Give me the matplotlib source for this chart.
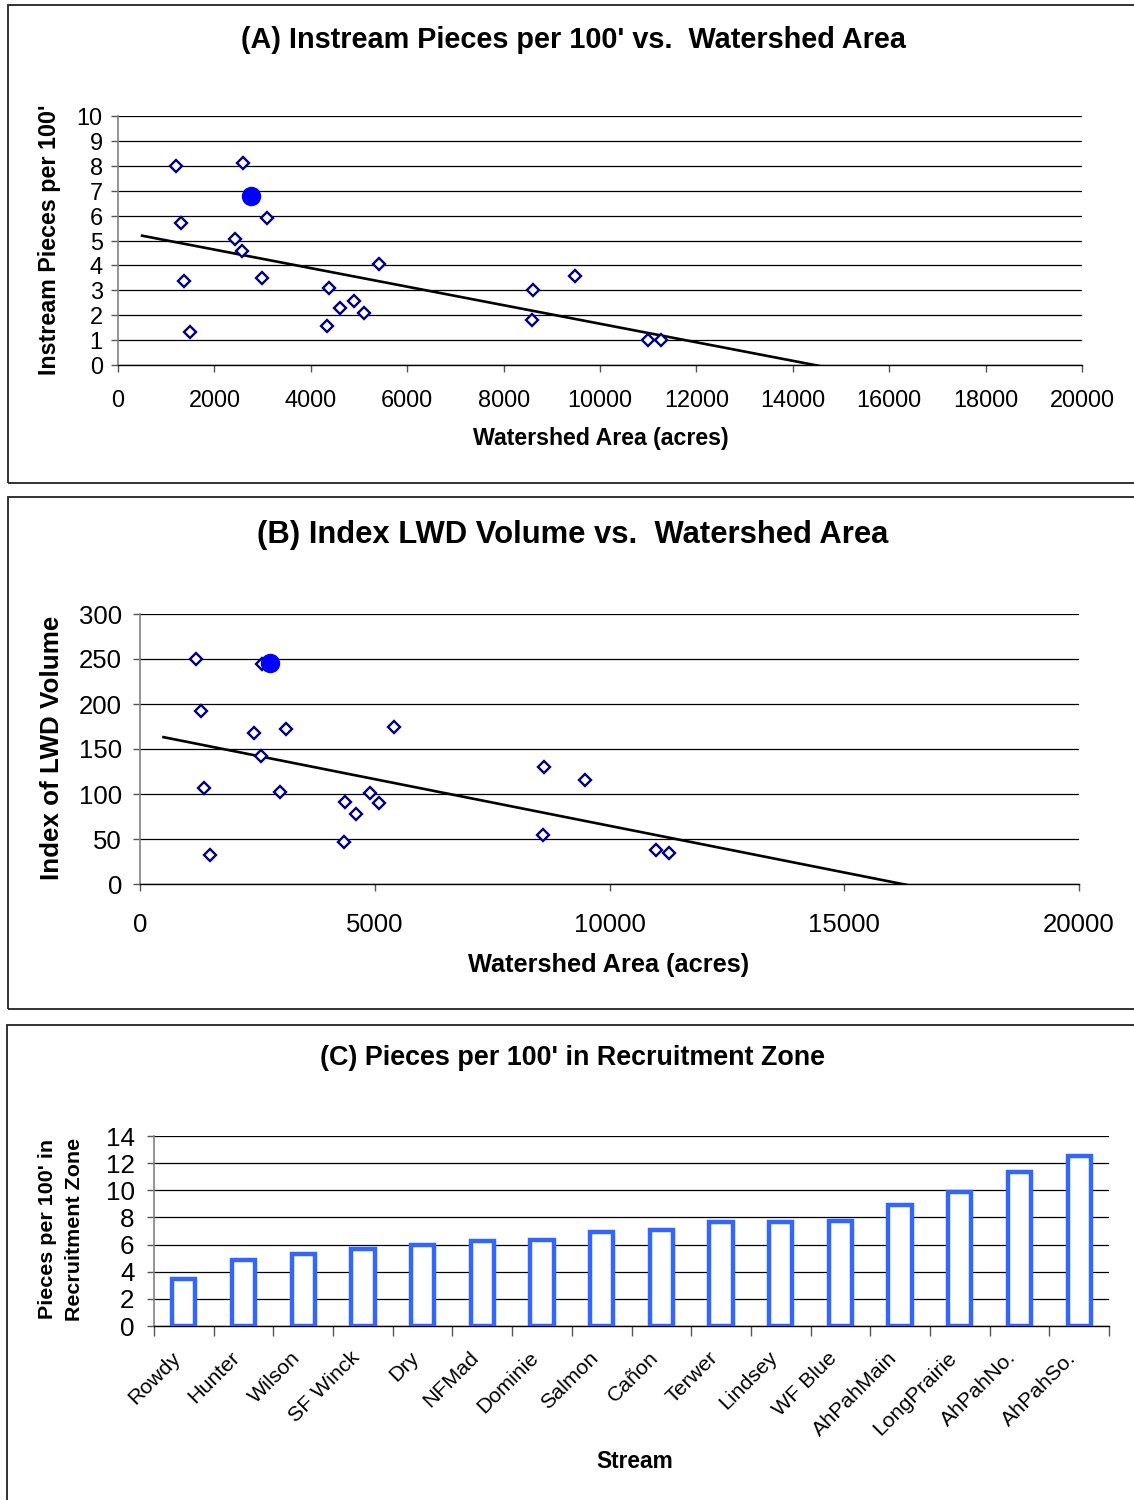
import numpy as np
import matplotlib
matplotlib.use("Agg")
import matplotlib.pyplot as plt
from matplotlib.patches import Rectangle
from matplotlib.transforms import ScaledTranslation, blended_transform_factory

plt.rcParams['font.family'] = ['Liberation Sans', 'DejaVu Sans']

# watershed area (acres) of the surveyed reaches
area = [1200, 1300, 1360, 1490, 2430, 2580, 2600, 2990, 3100, 4340,
        4370, 4600, 4900, 5100, 5410, 8600, 8590, 9480, 11000, 11270]
pieces = [8.0, 5.7, 3.37, 1.31, 5.07, 4.58, 8.1, 3.48, 5.89, 1.58,
          3.08, 2.28, 2.58, 2.1, 4.07, 3.0, 1.8, 3.59, 1.0, 1.0]
lwd_index = [250, 192, 107, 32, 168, 142, 245, 102, 172, 47,
             91, 78, 101, 90, 174, 130, 54, 116, 38, 35]

# highlighted stream
hl_area = 2760
hl_pieces = 6.8
hl_lwd = 246

streams = ['Rowdy', 'Hunter', 'Wilson', 'SF Winck', 'Dry', 'NFMad', 'Dominie',
           'Salmon', 'Cañon', 'Terwer', 'Lindsey', 'WF Blue', 'AhPahMain',
           'LongPrairie', 'AhPahNo.', 'AhPahSo.']
recruit = [3.5, 4.9, 5.3, 5.7, 6.0, 6.25, 6.35, 6.95, 7.05, 7.7, 7.7, 7.75,
           8.95, 9.85, 11.35, 12.55]

W, H = 1134, 1500
fig = plt.figure(figsize=(W / 100, H / 100), dpi=100)


def px(v):
    return v / 1.389


def add_ax(l, t, r, b):
    return fig.add_axes([l / W, 1 - b / H, (r - l) / W, (b - t) / H])


def frame(l, t, r, b):
    fig.patches.append(Rectangle((l / W, 1 - b / H), (r - l) / W, (b - t) / H,
                                 transform=fig.transFigure, fill=False,
                                 edgecolor='#222222', linewidth=1.3))


def style(ax):
    ax.grid(axis='y', color='black', linewidth=0.9)
    ax.set_axisbelow(True)
    for s in ['top', 'right']:
        ax.spines[s].set_visible(False)
    ax.spines['left'].set_color('#808080')
    ax.spines['left'].set_linewidth(1.2)
    ax.spines['bottom'].set_color('black')
    ax.spines['bottom'].set_linewidth(1.0)
    ax.tick_params(direction='out', length=5, width=1, color='#555555')


def scatter_panel(ax, y, hl_y, ymax, ystep, xstep, fs):
    x = np.array(area, dtype=float)
    yy = np.array(y, dtype=float)
    k, c = np.polyfit(x, yy, 1)
    xs = np.array([500, 20000])
    ax.plot(xs, k * xs + c, color='black', linewidth=1.9, zorder=2)
    ax.plot(x, yy, linestyle='none', marker='D', markersize=6.4,
            markerfacecolor='white', markeredgecolor='#000080',
            markeredgewidth=1.7, zorder=3)
    ax.plot([hl_area], [hl_y], linestyle='none', marker='o', markersize=13,
            color='#0000FF', zorder=4)
    ax.set_xlim(0, 20000)
    ax.set_ylim(0, ymax)
    ax.set_xticks(np.arange(0, 20001, xstep))
    ax.set_yticks(np.arange(0, ymax + 1, ystep))
    style(ax)
    ax.tick_params(labelsize=fs)


# (A) pieces per 100' against watershed area
frame(8, 5, 1140, 483)
axA = add_ax(118, 116, 1082, 365)
scatter_panel(axA, pieces, hl_pieces, 10, 1, 2000, px(23.5))
axA.tick_params(axis='x', pad=12)
axA.tick_params(axis='y', pad=6)
fig.text(573 / W, 1 - 40 / H, "(A) Instream Pieces per 100' vs.  Watershed Area",
         ha='center', va='center', fontsize=px(28.9), fontweight='bold')
fig.text(601 / W, 1 - 439 / H, "Watershed Area (acres)", ha='center',
         va='center', fontsize=px(23.2), fontweight='bold')
fig.text(50 / W, 1 - 240 / H, "Instream Pieces per 100'", ha='center',
         va='center', rotation=90, fontsize=px(23.3), fontweight='bold')

# (B) LWD volume index against watershed area
frame(8, 497, 1140, 1009)
axB = add_ax(140, 614, 1079, 884)
scatter_panel(axB, lwd_index, hl_lwd, 300, 50, 5000, px(25.8))
axB.tick_params(axis='x', pad=16)
axB.tick_params(axis='y', pad=8)
fig.text(573 / W, 1 - 535 / H, "(B) Index LWD Volume vs.  Watershed Area",
         ha='center', va='center', fontsize=px(31), fontweight='bold')
fig.text(609 / W, 1 - 965 / H, "Watershed Area (acres)", ha='center',
         va='center', fontsize=px(25.4), fontweight='bold')
fig.text(52 / W, 1 - 748 / H, "Index of LWD Volume", ha='center',
         va='center', rotation=90, fontsize=px(26), fontweight='bold')

# (C) recruitment zone pieces by stream
frame(7, 1025, 1140, 1506)
axC = add_ax(154, 1136, 1109, 1326)
pos = np.arange(len(streams))
axC.bar(pos, recruit, width=0.39, facecolor='white', edgecolor='#3366FF',
        linewidth=3.2, zorder=3)
axC.set_xlim(-0.5, len(streams) - 0.5)
axC.set_ylim(0, 14)
axC.set_yticks(np.arange(0, 15, 2))
style(axC)
axC.set_xticks(np.arange(-0.5, len(streams), 1))
axC.set_xticklabels([])
axC.tick_params(axis='x', length=7)
axC.tick_params(axis='y', labelsize=px(26), pad=9)

# slanted stream names under each bar
name_tr = blended_transform_factory(axC.transData, axC.transAxes) + \
    ScaledTranslation(-0.13, -0.22, fig.dpi_scale_trans)
for p, name in zip(pos, streams):
    axC.text(p, 0, name, transform=name_tr, rotation=45, ha='right',
             va='top', rotation_mode='anchor', fontsize=px(21.4))

fig.text(572 / W, 1 - 1058 / H, "(C) Pieces per 100' in Recruitment Zone",
         ha='center', va='center', fontsize=px(26.9), fontweight='bold')
fig.text(635 / W, 1 - 1462 / H, "Stream", ha='center', va='center',
         fontsize=px(22.8), fontweight='bold')
fig.text(61 / W, 1 - 1229 / H, "Pieces per 100' in\nRecruitment Zone",
         ha='center', va='center', rotation=90, fontsize=px(21.5),
         fontweight='bold', linespacing=1.5)

fig.savefig('out.png', dpi=100)
